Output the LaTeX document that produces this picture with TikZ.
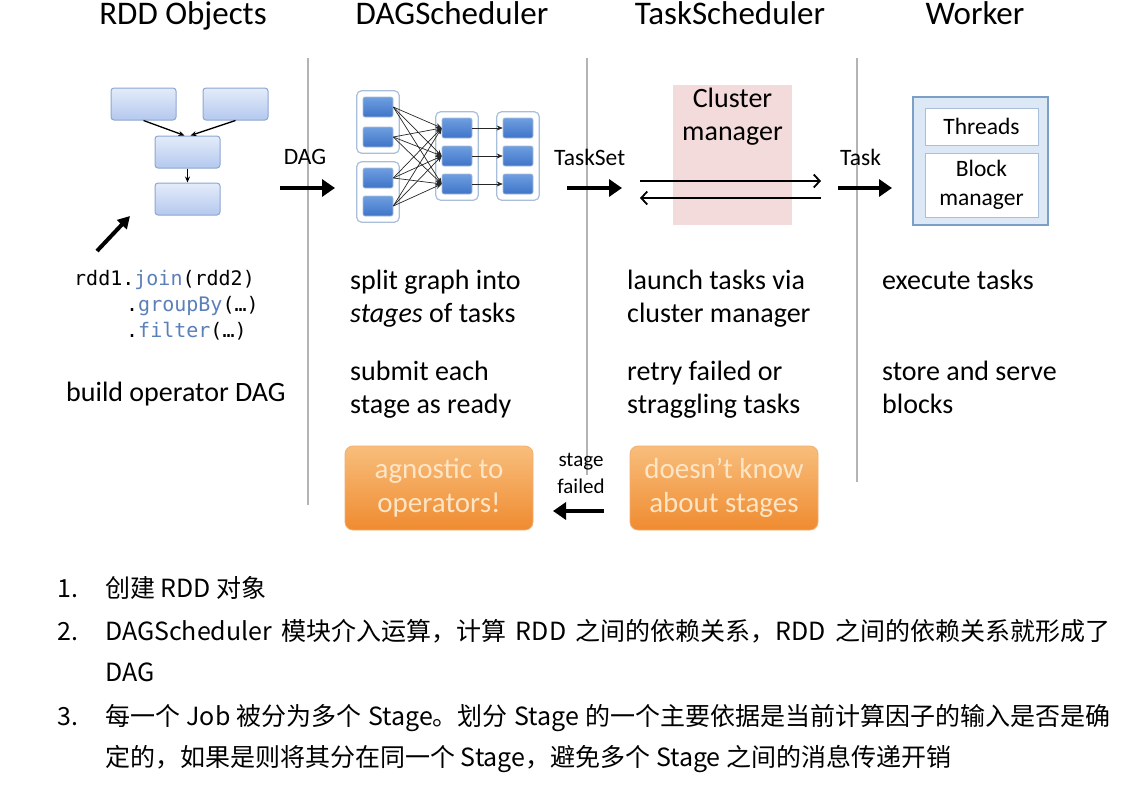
\documentclass[tikz,border=0pt]{standalone}
\usepackage{fontspec}
\setmainfont{Carlito}
\setmonofont{DejaVu Sans Mono}
\newfontfamily\cjkfont{Noto Sans CJK SC}
\usepackage{tikz}
\usetikzlibrary{arrows.meta, positioning, fit, backgrounds}

\definecolor{rddtop}{HTML}{E4ECFA}
\definecolor{rddbot}{HTML}{B4C8EE}
\definecolor{rddedge}{HTML}{8EA6D2}
\definecolor{tasktop}{HTML}{6F9FE0}
\definecolor{taskbot}{HTML}{3F74C8}
\definecolor{groupedge}{HTML}{A9BED8}
\definecolor{pinkbg}{HTML}{F3DADB}
\definecolor{workerbg}{HTML}{DCE8F5}
\definecolor{workeredge}{HTML}{7C9FC6}
\definecolor{orangetop}{HTML}{F8BE7C}
\definecolor{orangebot}{HTML}{EF8B30}
\definecolor{orangetext}{HTML}{FDE5C6}
\definecolor{codeblue}{HTML}{5B7FB8}
\definecolor{linegray}{HTML}{B4B4B4}

\begin{document}
\begin{tikzpicture}[
    x=1pt, y=-1pt,
    colhead/.style={font=\fontsize{33}{36}\selectfont, anchor=base, inner sep=0pt},
    desc/.style={font=\fontsize{28}{33}\selectfont, anchor=base west, align=left, inner sep=0pt},
    codeline/.style={font=\ttfamily\fontsize{20}{26}\selectfont, anchor=base west, inner sep=0pt},
    flowlabel/.style={font=\fontsize{23.5}{27}\selectfont, align=center, inner sep=0pt},
    rddbox/.style={rectangle, rounded corners=3pt, draw=rddedge, line width=1pt,
                   top color=rddtop, bottom color=rddbot, minimum width=65pt,
                   minimum height=32pt, inner sep=0pt},
    taskbox/.style={rectangle, rounded corners=2pt, draw=groupedge, line width=0.6pt,
                    top color=tasktop, bottom color=taskbot, minimum width=30pt,
                    minimum height=20pt, inner sep=0pt},
    stagegroup/.style={rectangle, rounded corners=5pt, draw=groupedge, line width=1.2pt,
                  fill=white, inner xsep=6pt, inner ysep=6pt},
    note/.style={rectangle, rounded corners=8pt, draw=orangebot!70, line width=0.8pt,
                 top color=orangetop, bottom color=orangebot, text=orangetext,
                 minimum width=188pt, minimum height=84pt, align=center,
                 font=\fontsize{29}{34}\selectfont},
    workerpart/.style={rectangle, draw=groupedge, line width=1pt, fill=white,
                  minimum width=113pt, align=center, font=\fontsize{23.5}{29}\selectfont},
    bigarrow/.style={-{Triangle[length=13pt, width=17pt]}, line width=4.5pt},
    smallarrow/.style={-{Stealth[length=6pt, width=5pt]}, line width=1.3pt},
    dagedge/.style={-{Stealth[length=6pt, width=5pt]}, line width=0.7pt, black!85},
    clusterarrow/.style={-{Straight Barb[length=6pt, width=13pt]}, line width=1.8pt},
    sepline/.style={draw=linegray, line width=1.6pt},
    listtext/.style={font=\cjkfont\fontsize{25}{30}\selectfont, anchor=base west, inner sep=0pt}
]
\useasboundingbox (0,0) rectangle (1141,787);

%% Column headings
\node[colhead] (hrdd)  at (183,24) {RDD Objects};
\node[colhead] (hdag)  at (452,24) {DAGScheduler};
\node[colhead] (htask) at (730,24) {TaskScheduler};
\node[colhead] (hwork) at (975,24) {Worker};

%% Column dividers
\draw[sepline] (308,58) -- (308,505);
\draw[sepline] (587,58) -- (587,475);
\draw[sepline] (857,58) -- (857,482);

%% RDD objects
\node[rddbox] (r1) at (143.5,104) {};
\node[rddbox] (r2) at (235.5,104) {};
\node[rddbox] (r3) at (187.5,152) {};
\node[rddbox] (r4) at (187.5,199) {};
\draw[smallarrow] (r1.south) -- ([xshift=-3pt]r3.north);
\draw[smallarrow] (r2.south) -- ([xshift=3pt]r3.north);
\draw[smallarrow] (r3) -- (r4);

\coordinate (ptrtail) at (97,251);
\coordinate (ptrtip)  at (130,216);
\draw[-{Triangle[length=12pt, width=13pt]}, line width=4pt] (ptrtail) -- (ptrtip);

\node[codeline] (c1) at (74,285)  {rdd1.\textcolor{codeblue}{join}(rdd2)};
\node[codeline] (c2) at (126,311) {.\textcolor{codeblue}{groupBy}(…)};
\node[codeline] (c3) at (126,337) {.\textcolor{codeblue}{filter}(…)};
\node[desc] (d1) at (66,401) {build operator DAG};

%% DAG arrow
\node[flowlabel] (ldag) at (305,157) {DAG};
\coordinate (dagfrom) at (280,188);
\coordinate (dagto)   at (335,188);
\draw[bigarrow] (dagfrom) -- (dagto);

%% DAG of stages
\node[taskbox] (a1) at (378,107) {};
\node[taskbox] (a2) at (378,137) {};
\node[taskbox] (b1) at (378,178) {};
\node[taskbox] (b2) at (378,206) {};
\node[taskbox] (m1) at (457,128) {};
\node[taskbox] (m2) at (457,156) {};
\node[taskbox] (m3) at (457,184) {};
\node[taskbox] (n1) at (518,128) {};
\node[taskbox] (n2) at (518,156) {};
\node[taskbox] (n3) at (518,184) {};
\begin{scope}[on background layer]
\node[stagegroup, fit=(a1)(a2)] (ga) {};
\node[stagegroup, fit=(b1)(b2)] (gb) {};
\node[stagegroup, fit=(m1)(m3)] (gm) {};
\node[stagegroup, fit=(n1)(n3)] (gn) {};
\end{scope}
\foreach \src in {a1,a2,b1,b2}
  \foreach \dst in {m1,m2,m3}
    \draw[dagedge] (\src.east) -- (\dst.west);
\foreach \i in {1,2,3}
  \draw[dagedge] (m\i) -- (n\i);

%% TaskSet arrow
\node[flowlabel, anchor=west] (ltaskset) at (554,157) {TaskSet};
\coordinate (tsfrom) at (567,188);
\coordinate (tsto)   at (622,188);
\draw[bigarrow] (tsfrom) -- (tsto);

%% Cluster manager
\node[rectangle, fill=pinkbg, minimum width=119pt, minimum height=140pt] (cm) at (732.5,155) {};
\node[font=\fontsize{28}{33}\selectfont, align=center, below=0pt of cm.north] (cmtext) {Cluster\\manager};
\coordinate (sendL) at (640,181);
\coordinate (sendR) at (821,181);
\coordinate (backL) at (640,198);
\coordinate (backR) at (821,198);
\draw[clusterarrow] (sendL) -- (sendR);
\draw[clusterarrow] (backR) -- (backL);

%% Task arrow
\node[flowlabel, anchor=west] (ltask) at (840,157) {Task};
\coordinate (tkfrom) at (838,188);
\coordinate (tkto)   at (892,188);
\draw[bigarrow] (tkfrom) -- (tkto);

%% Worker
\node[rectangle, fill=workerbg, draw=workeredge, line width=2.2pt,
      minimum width=135pt, minimum height=128pt] (wk) at (980.5,161) {};
\node[workerpart, minimum height=37pt] (th) at (981.5,126.5) {Threads};
\node[workerpart, minimum height=64pt] (bm) at (981.5,185) {Block\\manager};

%% Column descriptions
\node[desc] (s1) at (350,322) {split graph into\\\textit{stages} of tasks};
\node[desc] (s2) at (350,413) {submit each\\stage as ready};
\node[desc] (t1) at (627,322) {launch tasks via\\cluster manager};
\node[desc] (t2) at (627,413) {retry failed or\\straggling tasks};
\node[desc] (w1) at (882,289) {execute tasks};
\node[desc] (w2) at (882,413) {store and serve\\blocks};

%% Notes
\node[note] (agn) at (439,488) {agnostic to\\operators!};
\node[note] (dkn) at (724,488) {doesn’t know\\about stages};
\node[flowlabel, font=\fontsize{21}{27}\selectfont] (sfail) at (581,473) {stage\\failed};
\coordinate (sffrom) at (604,511);
\coordinate (sfto)   at (553,511);
\draw[bigarrow] (sffrom) -- (sfto);

%% Notes below
\node[listtext] (n1num) at (57,597) {1.};
\node[listtext] (n1txt) at (105,597) {创建 RDD 对象};
\node[listtext] (n2num) at (57,640) {2.};
\node[listtext] (n2txt) at (105,640) {\makebox[1005pt][s]{DAGScheduler 模块介入运算，计算 RDD 之间的依赖关系，RDD 之间的依赖关系就形成了}};
\node[listtext] (n2more) at (105,681) {DAG};
\node[listtext] (n3num) at (57,725) {3.};
\node[listtext] (n3txt) at (105,725) {\makebox[1005pt][s]{每一个 Job 被分为多个 Stage。划分 Stage 的一个主要依据是当前计算因子的输入是否是确}};
\node[listtext] (n3more) at (105,766) {定的，如果是则将其分在同一个 Stage，避免多个 Stage 之间的消息传递开销};

\end{tikzpicture}
\end{document}
